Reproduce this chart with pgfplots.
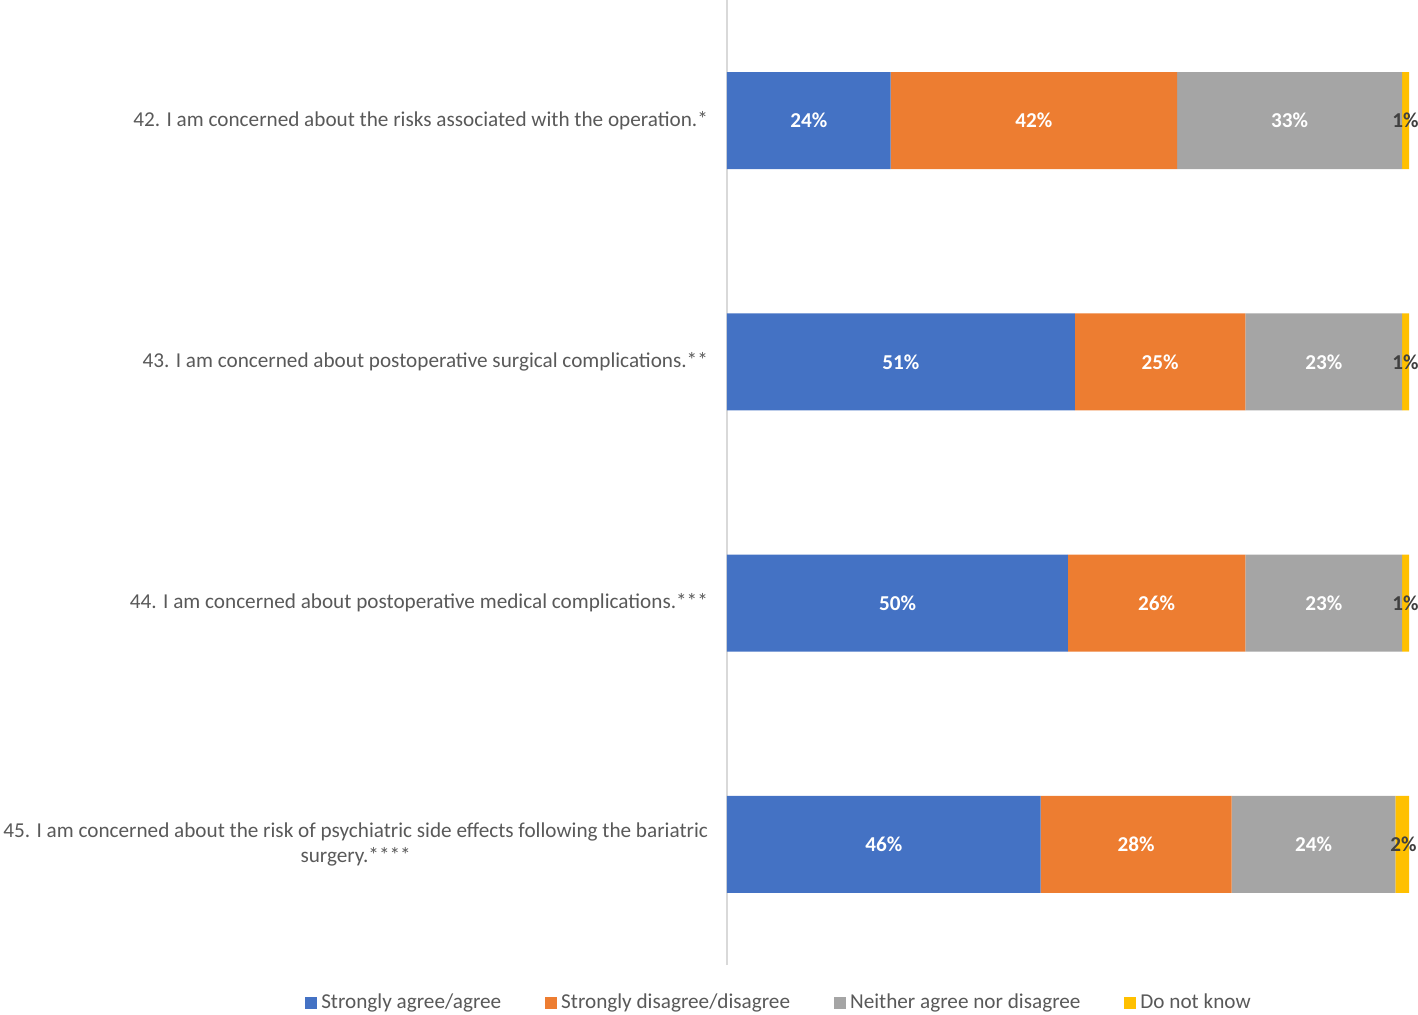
\documentclass[border=0pt]{standalone}
\usepackage{pgfplots}
\usepackage{pgfplotstable}
\pgfplotsset{compat=1.18}
\usepackage{fontspec}
\setmainfont{Carlito}
\definecolor{cblue}{HTML}{4472C4}
\definecolor{corange}{HTML}{ED7D31}
\definecolor{cgray}{HTML}{A5A5A5}
\definecolor{cyellow}{HTML}{FFC000}
\definecolor{txtgray}{HTML}{595959}
\definecolor{darktxt}{HTML}{404040}
\pgfplotstableread{
y agree disagree neither dnk
3 24 42 33 1
2 51 25 23 1
1 50 26 23 1
0 46 28 24 2
}\datatable
\pgfplotstableread{
x y v
12 3 24
45 3 42
82.5 3 33
25.5 2 51
63.5 2 25
87.5 2 23
25 1 50
63 1 26
87.5 1 23
23 0 46
60 0 28
86 0 24
}\whitelabels
\pgfplotstableread{
x y v
99.5 3 1
99.5 2 1
99.5 1 1
99.2 0 2
}\darklabels
\pgfplotsset{base/.style={
  at={(0,0)}, anchor=south west,
  scale only axis, width=341pt, height=482.5pt,
  xmin=0, xmax=100, ymin=-0.5, ymax=3.5,
}}
\begin{document}
\begin{tikzpicture}
\useasboundingbox (-363.5pt,-24.5pt) rectangle (345.5pt,482.5pt);
\begin{axis}[base,
  xbar stacked, bar width=48.5pt,
  axis lines*=left,
  x axis line style={draw=none},
  y axis line style={draw=black!15, line width=0.8pt},
  xtick=\empty,
  ytick={0,1,2,3},
  major tick length=0pt,
  yticklabels={{45. I am concerned about the risk of psychiatric side effects following the bariatric\\surgery.****},
    {44. I am concerned about postoperative medical complications.***},
    {43. I am concerned about postoperative surgical complications.**},
    {42. I am concerned about the risks associated with the operation.*}},
  yticklabel style={align=center, anchor=east, font=\fontsize{10.6}{12.5}\selectfont, text=txtgray, xshift=-6pt},
  legend style={at={(0.0777,-0.039)}, anchor=center, draw=none, legend columns=4,
    font=\fontsize{10.6}{12.5}\selectfont, text=txtgray,
    /tikz/every even column/.append style={column sep=20pt}},
  legend image code/.code={\fill[#1] (0pt,-3pt) rectangle (6pt,3pt);},
]
\addplot[fill=cblue, draw=none] table[x=agree, y=y] {\datatable};
\addplot[fill=corange, draw=none] table[x=disagree, y=y] {\datatable};
\addplot[fill=cgray, draw=none] table[x=neither, y=y] {\datatable};
\addplot[fill=cyellow, draw=none] table[x=dnk, y=y] {\datatable};
\legend{Strongly agree/agree, Strongly disagree/disagree, Neither agree nor disagree, Do not know}
\end{axis}
\begin{axis}[base, hide axis, clip=false, /pgf/number format/assume math mode=true]
\addplot[only marks, mark=none, point meta=explicit,
  nodes near coords={\pgfmathprintnumber{\pgfplotspointmeta}\%},
  every node near coord/.append style={anchor=center, text=white, font=\fontsize{10.6}{12.5}\selectfont\bfseries}]
  table[x=x, y=y, meta=v] {\whitelabels};
\addplot[only marks, mark=none, point meta=explicit,
  nodes near coords={\pgfmathprintnumber{\pgfplotspointmeta}\%},
  every node near coord/.append style={anchor=center, text=darktxt, font=\fontsize{10.6}{12.5}\selectfont\bfseries}]
  table[x=x, y=y, meta=v] {\darklabels};
\end{axis}
\end{tikzpicture}
\end{document}
